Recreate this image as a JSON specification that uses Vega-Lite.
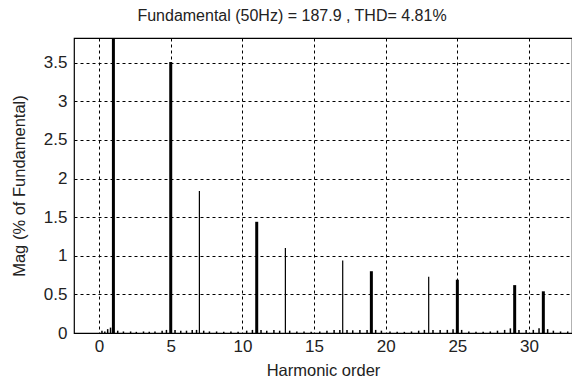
{
  "$schema": "https://vega.github.io/schema/vega-lite/v6.json",
  "autosize": "none",
  "width": 498,
  "height": 295,
  "padding": {"left": 74, "top": 38, "right": 0, "bottom": 50},
  "background": "white",
  "config": {
    "font": "Liberation Sans",
    "view": {"stroke": "#000", "strokeWidth": 1.2},
    "axis": {
      "grid": true,
      "gridColor": "#000",
      "gridDash": [3, 3],
      "gridWidth": 1,
      "gridOpacity": 1,
      "ticks": false,
      "domain": false,
      "labelFont": "Liberation Sans",
      "labelFontSize": 17,
      "labelColor": "#222",
      "titleFont": "Liberation Sans",
      "titleFontSize": 16.5,
      "titleFontWeight": "normal",
      "titleColor": "#222"
    }
  },
  "title": {
    "text": "Fundamental (50Hz)  = 187.9 , THD= 4.81%",
    "font": "Liberation Sans",
    "fontSize": 16,
    "fontWeight": "normal",
    "color": "#222",
    "anchor": "middle",
    "dx": -31,
    "offset": 14
  },
  "datasets": {
    "harm": [
      {"h": 1, "mag": 100, "kind": "major"},
      {"h": 5, "mag": 3.51, "kind": "major"},
      {"h": 7, "mag": 1.84, "kind": "minor"},
      {"h": 11, "mag": 1.44, "kind": "major"},
      {"h": 13, "mag": 1.1, "kind": "minor"},
      {"h": 17, "mag": 0.94, "kind": "minor"},
      {"h": 19, "mag": 0.8, "kind": "major"},
      {"h": 23, "mag": 0.73, "kind": "minor"},
      {"h": 25, "mag": 0.69, "kind": "major"},
      {"h": 29, "mag": 0.62, "kind": "major"},
      {"h": 31, "mag": 0.54, "kind": "major"}
    ],
    "noise": [
      {"h": 0.2, "mag": 0.03}, {"h": 0.4, "mag": 0.02}, {"h": 0.6, "mag": 0.05}, {"h": 0.8, "mag": 0.07},
      {"h": 1.3, "mag": 0.03}, {"h": 1.7, "mag": 0.02}, {"h": 2.2, "mag": 0.02}, {"h": 2.6, "mag": 0.015},
      {"h": 3.1, "mag": 0.02}, {"h": 3.5, "mag": 0.015}, {"h": 3.9, "mag": 0.02}, {"h": 4.4, "mag": 0.03},
      {"h": 4.7, "mag": 0.04}, {"h": 5.3, "mag": 0.04}, {"h": 5.7, "mag": 0.03}, {"h": 6.1, "mag": 0.03},
      {"h": 6.5, "mag": 0.04}, {"h": 6.8, "mag": 0.04}, {"h": 7.3, "mag": 0.03}, {"h": 7.7, "mag": 0.02},
      {"h": 8.2, "mag": 0.02}, {"h": 8.7, "mag": 0.015}, {"h": 9.2, "mag": 0.02}, {"h": 9.7, "mag": 0.015},
      {"h": 10.3, "mag": 0.03}, {"h": 10.7, "mag": 0.04}, {"h": 11.3, "mag": 0.04}, {"h": 11.7, "mag": 0.03},
      {"h": 12.2, "mag": 0.04}, {"h": 12.6, "mag": 0.03}, {"h": 13.3, "mag": 0.03}, {"h": 13.8, "mag": 0.02},
      {"h": 14.3, "mag": 0.02}, {"h": 14.8, "mag": 0.015}, {"h": 15.4, "mag": 0.02}, {"h": 15.9, "mag": 0.03},
      {"h": 16.4, "mag": 0.04}, {"h": 16.8, "mag": 0.04}, {"h": 17.3, "mag": 0.04}, {"h": 17.7, "mag": 0.035},
      {"h": 18.2, "mag": 0.04}, {"h": 18.7, "mag": 0.04}, {"h": 19.3, "mag": 0.04}, {"h": 19.7, "mag": 0.03},
      {"h": 20.3, "mag": 0.02}, {"h": 20.8, "mag": 0.015}, {"h": 21.3, "mag": 0.015}, {"h": 21.8, "mag": 0.02},
      {"h": 22.3, "mag": 0.03}, {"h": 22.7, "mag": 0.04}, {"h": 23.3, "mag": 0.04}, {"h": 23.8, "mag": 0.04},
      {"h": 24.3, "mag": 0.04}, {"h": 24.7, "mag": 0.05}, {"h": 25.3, "mag": 0.04}, {"h": 25.8, "mag": 0.02},
      {"h": 26.3, "mag": 0.015}, {"h": 26.8, "mag": 0.015}, {"h": 27.3, "mag": 0.02}, {"h": 27.8, "mag": 0.03},
      {"h": 28.3, "mag": 0.04}, {"h": 28.7, "mag": 0.06}, {"h": 29.3, "mag": 0.04}, {"h": 29.8, "mag": 0.04},
      {"h": 30.3, "mag": 0.04}, {"h": 30.7, "mag": 0.06}, {"h": 31.3, "mag": 0.05}, {"h": 31.7, "mag": 0.03},
      {"h": 32.2, "mag": 0.02}, {"h": 32.7, "mag": 0.02}
    ]
  },
  "encoding": {
    "x": {
      "field": "h",
      "type": "quantitative",
      "scale": {"domain": [-1.75, 33], "nice": false, "zero": false},
      "axis": {
        "title": "Harmonic order",
        "values": [0, 5, 10, 15, 20, 25, 30],
        "labelPadding": 5,
        "titlePadding": 8
      }
    },
    "y": {
      "field": "mag",
      "type": "quantitative",
      "scale": {"domain": [0, 3.82], "nice": false},
      "axis": {
        "title": "Mag (% of Fundamental)",
        "values": [0, 0.5, 1, 1.5, 2, 2.5, 3, 3.5],
        "format": "~g",
        "labelPadding": 7,
        "titlePadding": 16
      }
    },
    "y2": {"datum": 0}
  },
  "layer": [
    {
      "data": {"name": "noise"},
      "mark": {"type": "rule", "color": "#000", "strokeWidth": 1.5, "clip": true}
    },
    {
      "data": {"name": "harm"},
      "transform": [{"filter": "datum.kind === 'minor'"}],
      "mark": {"type": "rule", "color": "#000", "strokeWidth": 1.2, "clip": true}
    },
    {
      "data": {"name": "harm"},
      "transform": [{"filter": "datum.kind === 'major'"}],
      "mark": {"type": "rule", "color": "#000", "strokeWidth": 3, "clip": true}
    }
  ]
}
